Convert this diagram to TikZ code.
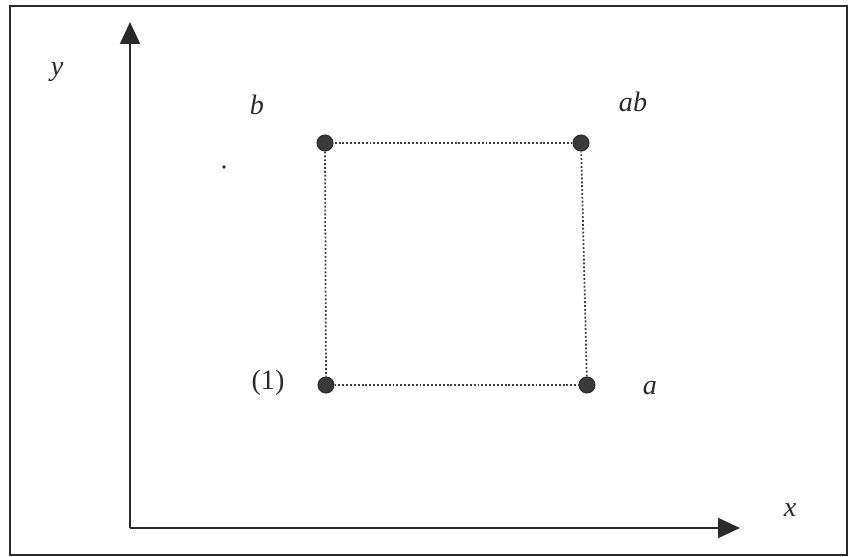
\documentclass[tikz,border=0pt]{standalone}
\usepackage{fontspec}
\setmainfont{Liberation Serif}
\usetikzlibrary{positioning, arrows.meta}
\definecolor{ink}{HTML}{2A2A2A}
\definecolor{dotfill}{HTML}{3A3A3A}

\begin{document}
\begin{tikzpicture}[
  x=0.02cm, y=-0.02cm,
  corner/.style={circle, fill=dotfill, draw=ink, line width=0.6pt,
                 inner sep=0pt, minimum size=0.32cm},
  lbl/.style={font=\fontsize{16}{18}\selectfont\itshape, text=ink},
  axis/.style={-{Triangle[length=0.44cm, width=0.4cm]}, line width=1.1pt, draw=ink},
  edge/.style={dash pattern=on 1.1pt off 1.1pt, line width=1pt, draw=ink!90}
]
\useasboundingbox (0,0) rectangle (849,557);
\draw[ink, line width=1.2pt] (10,6) rectangle (847,555);

% axes
\coordinate (o) at (130,528);
\coordinate (ytip) at (130,22);
\coordinate (xtip) at (740,528);
\draw[axis] (o) -- (ytip);
\draw[axis] (o) -- (xtip);
\node[lbl] (ylab) at (57,72) {y};
\node[lbl] (xlab) at (790,510) {x};

% design points
\node[corner] (p1) at (326,385) {};
\node[corner] (pa) at (587,385) {};
\node[corner] (pb) at (325,143) {};
\node[corner] (pab) at (581,143) {};

\draw[edge] (p1) -- (pa);
\draw[edge] (pa) -- (pab);
\draw[edge] (pab) -- (pb);
\draw[edge] (pb) -- (p1);

\node[lbl, font=\fontsize{16}{18}\selectfont] (l1) at (268,383) {(1)};
\node[lbl] (la) at (650,388) {a};
\node[lbl] (lb) at (257,105) {b};
\node[lbl] (lab) at (633,102) {ab};

\fill[ink] (224,167) circle (1pt);
\end{tikzpicture}
\end{document}
